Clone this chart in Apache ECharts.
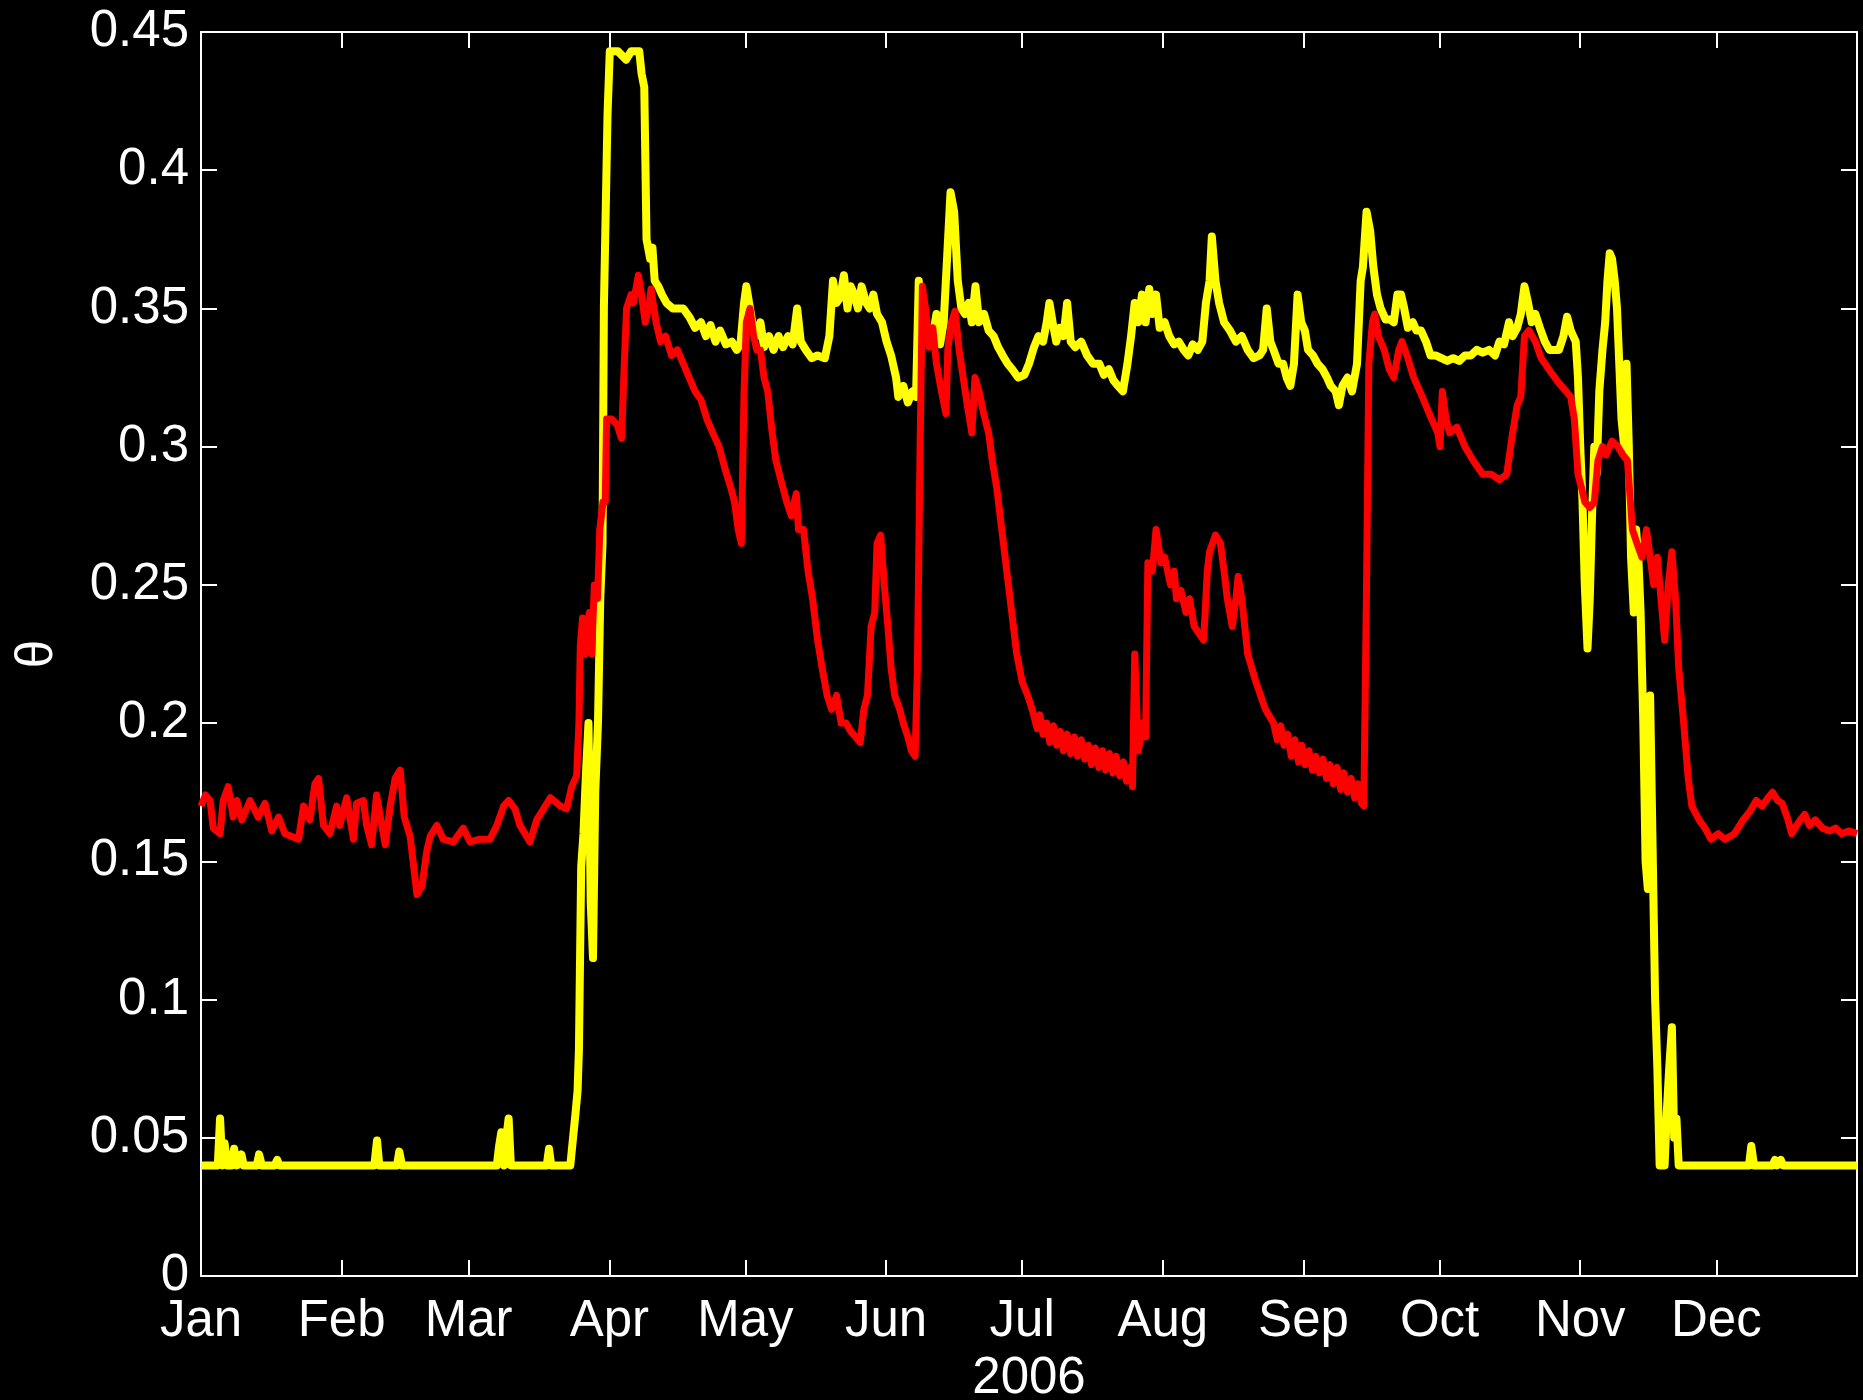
<!DOCTYPE html>
<html lang="en">
<head>
    <meta charset="UTF-8">
    <title>theta 2006</title>
    <script src="https://cdn.jsdelivr.net/npm/echarts@6.0.0/dist/echarts.min.js"></script>
    <style>
        html, body { margin: 0; padding: 0; background: #000; }
        #chart { width: 1863px; height: 1400px; }
    </style>
</head>
<body>
<div id="chart"></div>
<script>
    // x axis is day of year 2006 (0 = Jan 1, 365 = Jan 1 2007)
    var monthNames = ['Jan', 'Feb', 'Mar', 'Apr', 'May', 'Jun', 'Jul', 'Aug', 'Sep', 'Oct', 'Nov', 'Dec'];
    var monthStarts = [0, 31, 59, 90, 120, 151, 181, 212, 243, 273, 304, 334];
    var yearLabel = '2006';

    // yellow trace [day, theta]
    var yellowPts = [
        [0,0.04],[3.7,0.04],[4.2,0.057],[4.7,0.04],[5.2,0.048],[5.8,0.04],[6.8,0.04],[7.3,0.046],[7.9,0.04],
        [8.9,0.044],[9.4,0.04],[12.3,0.04],[12.8,0.044],[13.4,0.04],[16.2,0.04],[16.8,0.042],[17.3,0.04],
        [38.2,0.04],[38.8,0.049],[39.3,0.04],[43.2,0.04],[43.7,0.045],[44.3,0.04],[65.2,0.04],[65.7,0.047],
        [66.2,0.052],[66.8,0.04],[67.3,0.05],[67.8,0.057],[68.3,0.04],[76.2,0.04],[76.7,0.046],[77.2,0.04],
        [81.4,0.04],[82.0,0.05],[82.5,0.058],[83.0,0.067],[83.3,0.082],[83.8,0.148],[84.3,0.16],[84.8,0.18],
        [85.4,0.2],[85.9,0.135],[86.4,0.115],[86.9,0.175],[87.5,0.2],[88.0,0.245],[88.5,0.265],[88.8,0.35],
        [89.6,0.42],[90.1,0.443],[91.9,0.443],[93.7,0.44],[94.8,0.443],[96.6,0.443],[97.1,0.435],[97.7,0.43],
        [98.2,0.375],[99.0,0.368],[99.5,0.372],[100.0,0.36],[100.8,0.358],[101.6,0.355],[102.6,0.352],[104.0,0.35],
        [106.3,0.35],[107.6,0.347],[108.9,0.343],[110.2,0.345],[111.3,0.34],[112.3,0.344],[113.4,0.338],[114.4,0.342],
        [115.7,0.337],[117.0,0.338],[118.1,0.335],[118.9,0.337],[119.7,0.352],[120.2,0.358],[121.0,0.35],[121.8,0.342],
        [122.5,0.34],[123.3,0.345],[124.1,0.336],[125.2,0.34],[126.2,0.335],[127.3,0.34],[128.3,0.336],[129.4,0.34],
        [130.4,0.337],[131.4,0.35],[132.2,0.338],[133.3,0.335],[134.6,0.332],[135.9,0.333],[137.5,0.332],[138.5,0.34],
        [139.3,0.36],[140.1,0.352],[140.9,0.354],[141.7,0.362],[142.5,0.35],[143.2,0.358],[144.0,0.355],[144.8,0.35],
        [145.6,0.358],[146.6,0.352],[147.4,0.35],[148.2,0.355],[149.0,0.348],[150.1,0.345],[151.1,0.338],[152.1,0.333],
        [153.2,0.325],[153.7,0.318],[154.8,0.322],[155.8,0.316],[156.8,0.32],[157.6,0.318],[158.2,0.36],[159.0,0.348],
        [159.7,0.345],[160.5,0.34],[161.3,0.34],[162.1,0.348],[162.9,0.337],[163.7,0.345],[164.5,0.37],[165.2,0.392],
        [166.0,0.385],[166.8,0.36],[167.6,0.35],[168.4,0.348],[169.2,0.352],[169.9,0.345],[170.7,0.358],[171.5,0.345],
        [172.6,0.348],[173.6,0.342],[174.7,0.34],[175.7,0.336],[176.7,0.333],[177.8,0.33],[178.8,0.328],[180.1,0.325],
        [181.5,0.326],[182.5,0.33],[183.6,0.336],[184.6,0.34],[185.6,0.338],[186.4,0.345],[187.0,0.352],[187.7,0.345],
        [188.5,0.338],[189.3,0.343],[190.1,0.34],[190.9,0.352],[191.7,0.338],[192.7,0.336],[194.0,0.338],[195.3,0.333],
        [196.6,0.33],[198.0,0.33],[199.0,0.326],[200.1,0.328],[201.1,0.324],[202.1,0.322],[203.2,0.32],[204.2,0.33],
        [205.0,0.34],[205.8,0.352],[206.6,0.345],[207.4,0.355],[208.2,0.345],[209.0,0.357],[209.7,0.348],[210.5,0.355],
        [211.3,0.343],[212.4,0.345],[213.4,0.34],[214.5,0.337],[215.5,0.338],[216.6,0.335],[217.6,0.333],[218.6,0.337],
        [219.7,0.335],[220.7,0.338],[221.5,0.352],[222.3,0.36],[222.8,0.376],[223.6,0.36],[224.4,0.352],[225.5,0.345],
        [226.8,0.342],[228.1,0.338],[229.4,0.34],[230.7,0.335],[232.0,0.332],[233.3,0.333],[234.1,0.335],[234.9,0.35],
        [235.7,0.338],[236.4,0.335],[237.5,0.33],[238.5,0.33],[239.3,0.325],[240.1,0.322],[240.9,0.33],[241.7,0.355],
        [242.5,0.345],[243.3,0.342],[244.0,0.335],[245.1,0.333],[246.1,0.33],[247.2,0.328],[248.2,0.325],[249.0,0.322],
        [250.1,0.32],[250.8,0.315],[251.6,0.322],[252.7,0.325],[253.7,0.32],[254.8,0.33],[255.6,0.36],[256.1,0.365],
        [256.9,0.385],[257.7,0.378],[258.4,0.365],[259.2,0.355],[260.0,0.35],[261.1,0.346],[262.1,0.346],[262.9,0.345],
        [263.7,0.355],[264.5,0.355],[265.2,0.35],[266.0,0.343],[267.1,0.345],[267.9,0.342],[268.9,0.342],[270.0,0.338],
        [271.0,0.333],[272.1,0.333],[273.4,0.332],[274.7,0.331],[276.0,0.332],[277.3,0.331],[278.6,0.333],[279.9,0.333],
        [281.2,0.335],[282.5,0.334],[283.9,0.335],[285.2,0.333],[286.2,0.338],[287.2,0.337],[288.3,0.345],[289.1,0.34],
        [290.1,0.343],[290.9,0.348],[291.7,0.358],[292.5,0.352],[293.3,0.345],[294.1,0.348],[295.1,0.343],[296.2,0.338],
        [297.2,0.335],[298.2,0.335],[299.3,0.335],[300.3,0.34],[301.1,0.347],[301.9,0.342],[303.0,0.338],[303.5,0.325],
        [304.0,0.3],[304.5,0.28],[305.0,0.25],[305.6,0.227],[306.1,0.245],[306.6,0.275],[307.1,0.3],[307.6,0.29],
        [308.2,0.32],[308.9,0.335],[309.5,0.345],[310.0,0.36],[310.5,0.37],[311.0,0.368],[311.6,0.36],[312.1,0.35],
        [312.6,0.33],[313.1,0.31],[313.7,0.3],[314.2,0.33],[314.7,0.3],[315.2,0.26],[315.8,0.24],[316.3,0.27],
        [316.8,0.26],[317.3,0.24],[317.9,0.2],[318.4,0.15],[318.9,0.14],[319.2,0.2],[319.4,0.21],[320.0,0.15],
        [320.5,0.1],[321.0,0.075],[321.5,0.04],[322.6,0.04],[323.1,0.06],[323.6,0.075],[324.2,0.09],[324.7,0.05],
        [325.2,0.057],[325.7,0.04],[341.2,0.04],[341.7,0.047],[342.3,0.04],[346.4,0.04],[346.9,0.042],[347.4,0.04],
        [348.2,0.042],[348.7,0.04],[365,0.04]
    ];

    // red trace [day, theta]
    var redPts = [
        [0,0.170],[1.0,0.174],[2.0,0.172],[2.7,0.162],[4.2,0.160],[4.9,0.172],[6.0,0.177],[7.1,0.166],[7.9,0.172],
        [9.0,0.165],[10.8,0.172],[12.6,0.166],[14.1,0.171],[15.6,0.161],[17.1,0.166],[18.5,0.160],[20.0,0.159],
        [21.5,0.158],[22.6,0.170],[24.0,0.165],[25.1,0.178],[25.9,0.180],[27.0,0.163],[28.4,0.160],[29.9,0.170],
        [30.6,0.163],[32.1,0.173],[33.6,0.158],[34.3,0.171],[35.8,0.172],[36.5,0.163],[37.6,0.156],[38.7,0.174],
        [40.6,0.156],[41.7,0.170],[42.8,0.180],[43.9,0.183],[44.8,0.166],[46.1,0.159],[47.6,0.138],[48.7,0.141],
        [49.8,0.154],[50.5,0.159],[52.0,0.163],[53.4,0.158],[55.6,0.157],[57.8,0.162],[59.3,0.157],[61.5,0.158],
        [63.7,0.158],[65.2,0.163],[66.7,0.170],[67.8,0.172],[69.2,0.169],[70.3,0.163],[72.5,0.157],[74.0,0.165],
        [75.5,0.169],[77.0,0.173],[79.2,0.170],[80.6,0.169],[81.7,0.177],[82.8,0.181],[83.3,0.20],[83.6,0.228],
        [84.1,0.238],[84.6,0.225],[85.1,0.235],[85.6,0.24],[86.1,0.225],[86.7,0.25],[87.4,0.245],[87.9,0.27],
        [88.6,0.28],[89.1,0.28],[89.4,0.31],[90.5,0.31],[91.7,0.308],[92.7,0.303],[93.3,0.33],[93.8,0.35],
        [94.8,0.355],[95.3,0.352],[96.4,0.362],[97.1,0.355],[97.9,0.345],[98.7,0.35],[99.2,0.357],[100.3,0.345],
        [101.3,0.338],[102.4,0.34],[103.7,0.333],[105.0,0.335],[106.3,0.33],[107.6,0.325],[108.9,0.32],[110.2,0.317],
        [111.5,0.31],[112.8,0.305],[114.2,0.30],[115.5,0.292],[116.8,0.285],[117.6,0.28],[118.4,0.27],[119.1,0.265],
        [119.7,0.32],[120.2,0.345],[121.0,0.35],[121.8,0.34],[122.5,0.335],[123.3,0.335],[124.1,0.325],[124.9,0.32],
        [125.9,0.305],[126.7,0.295],[127.8,0.288],[129.1,0.28],[130.1,0.275],[131.2,0.283],[131.7,0.27],[132.8,0.27],
        [133.8,0.255],[134.8,0.245],[135.9,0.23],[136.9,0.22],[138.0,0.21],[139.0,0.205],[140.1,0.21],[141.1,0.20],
        [142.2,0.20],[143.2,0.197],[144.3,0.195],[145.3,0.193],[146.1,0.205],[146.9,0.21],[147.7,0.235],[148.5,0.24],
        [149.0,0.265],[149.8,0.268],[150.6,0.25],[151.4,0.235],[152.1,0.22],[152.9,0.21],[154.0,0.205],[154.8,0.20],
        [155.8,0.195],[156.6,0.19],[157.4,0.188],[157.9,0.22],[158.5,0.30],[159.0,0.358],[159.7,0.35],[160.5,0.336],
        [161.3,0.343],[162.1,0.33],[163.2,0.32],[164.2,0.312],[164.6,0.335],[165.4,0.345],[166.2,0.349],[167.1,0.335],
        [168.0,0.325],[168.9,0.315],[169.9,0.305],[170.6,0.325],[171.5,0.32],[172.5,0.312],[173.6,0.305],[174.4,0.295],
        [175.4,0.285],[176.5,0.27],[177.6,0.255],[178.7,0.24],[179.8,0.225],[181.0,0.215],[182.2,0.21],[183.2,0.205],
        [184.3,0.198],[184.9,0.203],[185.6,0.196],[186.4,0.2],[187.1,0.193],[187.9,0.199],[188.6,0.192],[189.4,0.197],
        [190.1,0.19],[190.9,0.196],[191.7,0.189],[192.5,0.195],[193.2,0.188],[194.0,0.194],[194.8,0.187],[195.6,0.192],
        [196.3,0.185],[197.1,0.191],[197.9,0.184],[198.7,0.19],[199.4,0.183],[200.2,0.189],[201.0,0.182],[201.7,0.188],
        [202.5,0.181],[203.3,0.186],[204.0,0.179],[204.8,0.184],[205.3,0.177],[205.8,0.225],[206.6,0.19],[207.6,0.20],
        [208.2,0.195],[208.7,0.258],[209.7,0.255],[210.5,0.27],[211.6,0.258],[212.4,0.26],[213.7,0.25],[214.5,0.255],
        [215.0,0.245],[216.0,0.248],[217.1,0.24],[217.9,0.245],[218.9,0.235],[221.0,0.23],[221.8,0.255],[222.3,0.262],
        [223.6,0.268],[224.7,0.265],[225.5,0.255],[226.2,0.245],[227.3,0.235],[228.1,0.245],[228.6,0.253],[229.4,0.245],
        [230.7,0.225],[232.5,0.215],[234.6,0.205],[236.4,0.2],[237.2,0.194],[238.0,0.199],[238.7,0.192],[239.5,0.196],
        [240.3,0.188],[241.1,0.194],[241.9,0.186],[242.6,0.192],[243.4,0.185],[244.2,0.19],[245.0,0.183],[245.7,0.188],
        [246.5,0.182],[247.3,0.187],[248.1,0.18],[248.8,0.185],[249.6,0.178],[250.4,0.184],[251.2,0.176],[251.9,0.182],
        [252.7,0.175],[253.5,0.18],[254.3,0.173],[255.0,0.178],[255.8,0.171],[256.3,0.17],[256.9,0.25],[257.4,0.33],
        [258.2,0.345],[258.7,0.348],[259.5,0.34],[260.8,0.335],[261.9,0.328],[262.9,0.325],[264.0,0.335],[264.7,0.338],
        [266.0,0.332],[267.3,0.325],[269.2,0.318],[270.7,0.312],[272.6,0.305],[273.1,0.30],[273.6,0.32],[274.4,0.31],
        [275.2,0.305],[276.8,0.307],[278.6,0.30],[280.4,0.295],[282.5,0.29],[284.4,0.29],[286.2,0.288],[287.8,0.29],
        [289.1,0.305],[290.1,0.315],[290.9,0.318],[291.7,0.34],[292.7,0.342],[294.1,0.338],[295.4,0.332],[297.5,0.327],
        [299.3,0.323],[300.9,0.32],[301.9,0.318],[302.7,0.31],[303.5,0.29],[304.3,0.285],[305.0,0.28],[306.1,0.278],
        [307.1,0.28],[307.9,0.295],[308.9,0.30],[309.7,0.297],[311.0,0.302],[312.3,0.30],[313.4,0.297],[314.4,0.295],
        [315.5,0.27],[316.5,0.265],[317.6,0.26],[318.6,0.27],[319.4,0.26],[320.2,0.25],[321.0,0.26],[321.8,0.245],
        [322.6,0.23],[323.4,0.25],[324.2,0.262],[325.0,0.245],[325.7,0.22],[326.8,0.20],[327.8,0.18],[328.6,0.17],
        [330.2,0.165],[331.5,0.162],[332.8,0.158],[334.4,0.16],[335.9,0.158],[338.0,0.16],[339.9,0.165],[341.4,0.168],
        [342.8,0.172],[344.1,0.17],[345.4,0.173],[346.4,0.175],[347.5,0.172],[348.5,0.171],[349.8,0.165],[350.6,0.16],
        [351.7,0.163],[352.5,0.165],[353.5,0.167],[354.5,0.163],[355.8,0.165],[357.4,0.162],[359.0,0.161],[360.3,0.162],
        [361.6,0.16],[363.2,0.161],[365,0.16]
    ];

    var font = 'Liberation Sans, Arial, sans-serif';
    var white = '#ffffff';

    function boxAxisX(pos, showLabels) {
        return {
            type: 'value',
            position: pos,
            min: 0,
            max: 365,
            axisLine: { show: true, onZero: false, lineStyle: { color: white, width: 2 } },
            axisTick: { show: true, inside: true, length: 16, customValues: monthStarts, lineStyle: { color: white, width: 2 } },
            axisLabel: {
                show: showLabels,
                customValues: monthStarts,
                formatter: function (v) { return monthNames[monthStarts.indexOf(v)] || ''; },
                color: white,
                fontSize: 51,
                fontFamily: font,
                margin: 20
            },
            splitLine: { show: false }
        };
    }

    function boxAxisY(pos, showLabels) {
        return {
            type: 'value',
            position: pos,
            min: 0,
            max: 0.45,
            interval: 0.05,
            axisLine: { show: true, onZero: false, lineStyle: { color: white, width: 2 } },
            axisTick: { show: true, inside: true, length: 16, lineStyle: { color: white, width: 2 } },
            axisLabel: {
                show: showLabels,
                formatter: function (v) { return String(parseFloat(v.toFixed(2))); },
                color: white,
                fontSize: 51,
                fontFamily: font,
                margin: 12
            },
            splitLine: { show: false }
        };
    }

    var xBottom = boxAxisX('bottom', true);
    xBottom.name = yearLabel;
    xBottom.nameLocation = 'middle';
    xBottom.nameGap = 77;
    xBottom.nameTextStyle = { color: white, fontSize: 51, fontFamily: font };

    var yLeft = boxAxisY('left', true);
    yLeft.name = 'θ';
    yLeft.nameLocation = 'middle';
    yLeft.nameGap = 138;
    yLeft.nameTextStyle = { color: white, fontSize: 51, fontFamily: font };

    var option = {
        backgroundColor: '#000000',
        animation: false,
        grid: { left: 201, right: 6, top: 32, bottom: 124, containLabel: false, outerBoundsMode: 'none' },
        xAxis: [xBottom, boxAxisX('top', false)],
        yAxis: [yLeft, boxAxisY('right', false)],
        series: [
            {
                name: 'yellow',
                type: 'line',
                data: yellowPts,
                xAxisIndex: 0,
                yAxisIndex: 0,
                showSymbol: false,
                lineStyle: { color: '#ffff00', width: 8, join: 'round' },
                itemStyle: { color: '#ffff00' }
            },
            {
                name: 'red',
                type: 'line',
                data: redPts,
                xAxisIndex: 0,
                yAxisIndex: 0,
                showSymbol: false,
                lineStyle: { color: '#ff0000', width: 7, join: 'round' },
                itemStyle: { color: '#ff0000' }
            }
        ]
    };

    var myChart = echarts.init(document.getElementById('chart'));
    myChart.setOption(option);
</script>
</body>
</html>
